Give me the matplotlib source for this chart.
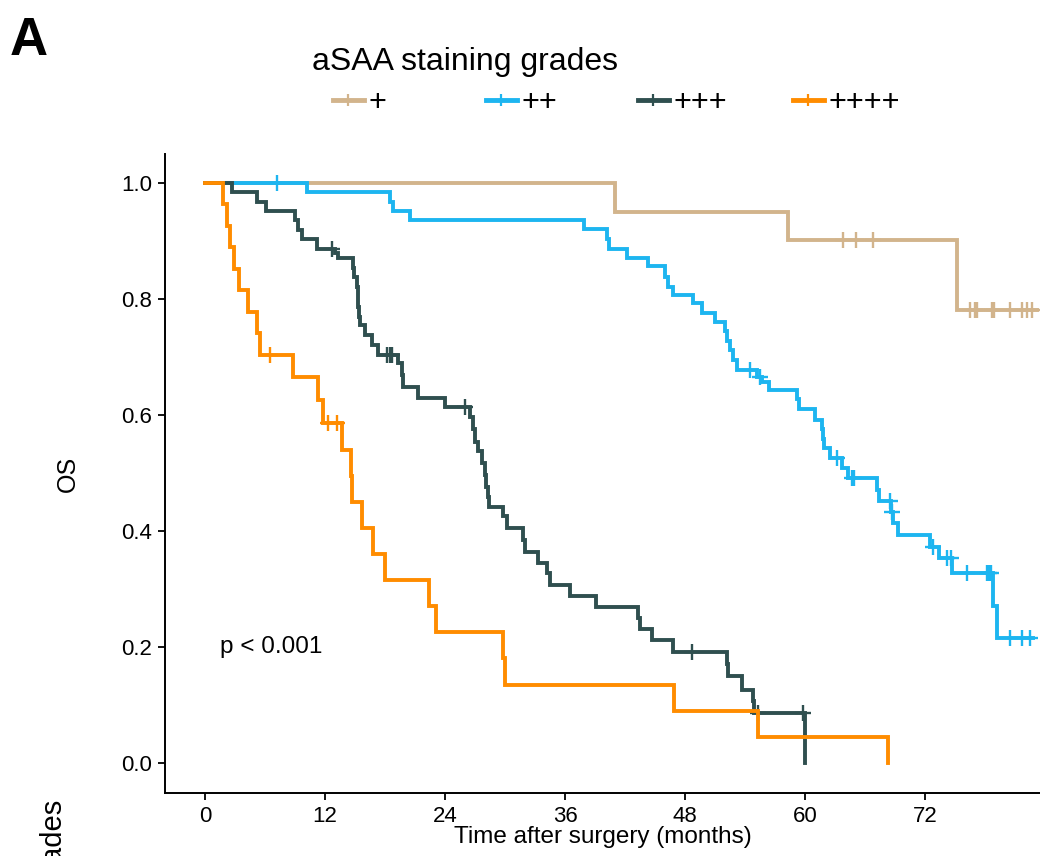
"""
Kaplan-Meier OS curves by aSAA staining grade (panel A).
"""
import numpy as np
import matplotlib
matplotlib.use("Agg")
import matplotlib.pyplot as plt
from matplotlib.lines import Line2D

plt.rcParams["font.family"] = ["Liberation Sans", "DejaVu Sans"]

# ---- data (months, survival after each drop) ----
grades = ["+", "++", "+++", "++++"]
colors = ["#D2B48C", "#1DB5F0", "#2F4F4F", "#FF8C00"]

tan_t = [0, 41.0, 58.3, 75.2]
tan_s = [1.0, 0.950, 0.902, 0.781]
tan_cens = [63.8, 65.1, 66.8, 76.5, 77.0, 77.2, 78.7, 78.9, 80.5, 81.7, 82.2, 82.7]
tan_end = 83.2

blue_t = [0, 10.2, 18.5, 18.8, 20.5, 37.9, 40.2, 40.4, 42.2, 44.3, 46.0, 46.3,
          46.8, 48.8, 49.7, 51.0, 52.0, 52.2, 52.5, 52.8, 53.2, 55.2, 55.7,
          56.4, 59.2, 59.4, 61.0, 61.7, 61.8, 61.9, 62.5, 63.7, 64.3, 67.2,
          67.4, 68.6, 68.8, 69.3, 72.5, 73.4, 74.7, 78.8, 79.2]
blue_s = [1.0, 0.985, 0.968, 0.952, 0.936, 0.921, 0.904, 0.887, 0.871, 0.856,
          0.838, 0.821, 0.807, 0.793, 0.775, 0.761, 0.744, 0.728, 0.712, 0.695,
          0.678, 0.666, 0.656, 0.643, 0.627, 0.611, 0.591, 0.575, 0.559, 0.543,
          0.526, 0.508, 0.491, 0.471, 0.451, 0.432, 0.413, 0.393, 0.373, 0.353,
          0.327, 0.270, 0.215]
blue_cens = [7.2, 54.5, 55.5, 63.2, 64.7, 64.9, 68.5, 68.7, 72.8, 74.2, 74.6,
             76.2, 78.2, 78.4, 78.6, 80.5, 81.7, 82.5]
blue_end = 82.8

green_t = [0, 2.67, 5.17, 6.1, 9.0, 9.3, 9.7, 11.17, 13.0, 13.3, 14.8, 14.9,
           15.2, 15.25, 15.3, 15.35, 15.5, 16.0, 16.7, 17.3, 19.3, 19.7, 19.8,
           21.3, 24.0, 26.5, 26.8, 27.0, 27.3, 27.7, 28.0, 28.05, 28.3, 28.35,
           29.8, 30.2, 31.8, 32.0, 33.3, 34.2, 34.5, 36.5, 39.1, 43.3, 43.5,
           44.7, 46.8, 52.2, 52.3, 53.7, 54.8, 54.9, 60.0]
green_s = [1.0, 0.985, 0.968, 0.952, 0.936, 0.919, 0.903, 0.887, 0.879, 0.870,
           0.854, 0.838, 0.821, 0.804, 0.787, 0.769, 0.755, 0.738, 0.721, 0.703,
           0.689, 0.669, 0.649, 0.630, 0.613, 0.597, 0.575, 0.554, 0.537, 0.517,
           0.497, 0.476, 0.459, 0.442, 0.425, 0.405, 0.385, 0.364, 0.344, 0.327,
           0.307, 0.287, 0.268, 0.249, 0.230, 0.211, 0.192, 0.170, 0.149, 0.126,
           0.106, 0.086, 0.0]
green_cens = [12.7, 18.2, 18.5, 18.7, 26.0, 48.7, 55.3, 59.8]
green_end = 60.0

orange_t = [0, 1.8, 2.2, 2.5, 2.9, 3.4, 4.3, 5.2, 5.5, 8.8, 11.3, 11.8, 13.7,
            14.6, 14.7, 15.7, 16.8, 18.0, 22.4, 23.1, 29.8, 30.0, 46.9, 55.3,
            68.3]
orange_s = [1.0, 0.963, 0.926, 0.889, 0.852, 0.815, 0.778, 0.741, 0.704, 0.666,
            0.626, 0.586, 0.540, 0.495, 0.450, 0.405, 0.360, 0.315, 0.270, 0.225,
            0.180, 0.135, 0.090, 0.045, 0.0]
orange_cens = [6.5, 12.3, 13.2]
orange_end = 68.3

curves = [
    (tan_t, tan_s, tan_cens, tan_end),
    (blue_t, blue_s, blue_cens, blue_end),
    (green_t, green_s, green_cens, green_end),
    (orange_t, orange_s, orange_cens, orange_end),
]

W, H = 1040, 856
fig = plt.figure(figsize=(W / 100, H / 100), dpi=100)
ax = fig.add_axes([165 / W, 1 - 793 / H, (W - 165) / W, (793 - 154) / H])

for i, ((t, s, cens, end), col) in enumerate(zip(curves, colors)):
    t = np.asarray(t, float)
    s = np.asarray(s, float)
    xs = np.append(t, end)
    ys = np.append(s, s[-1])
    ax.step(xs, ys, where="post", color=col, lw=2.8, zorder=2 + i,
            solid_joinstyle="miter")
    c = np.asarray(cens, float)
    idx = np.searchsorted(t, c, side="right") - 1
    ax.plot(c, s[idx], ls="none", marker="+", ms=11, mew=1.7, color=col,
            zorder=2 + i)

ax.text(1.5, 0.2, "p < 0.001", fontsize=17.5, ha="left", va="center")

ax.set_xlim(-4, 83.5)
ax.set_ylim(-0.052, 1.05)
ax.set_xticks(np.arange(0, 73, 12))
ax.set_yticks(np.arange(0, 1.01, 0.2))
ax.yaxis.set_major_formatter(matplotlib.ticker.FormatStrFormatter("%.1f"))
ax.tick_params(length=5, width=1.3, labelsize=16, pad=4, color="black",
               labelcolor="black")
for side in ["top", "right"]:
    ax.spines[side].set_visible(False)
for side in ["left", "bottom"]:
    ax.spines[side].set_linewidth(1.4)
ax.set_xlabel("Time after surgery (months)", fontsize=17.5, labelpad=0)
ax.set_ylabel("OS", fontsize=18, labelpad=30)

# legend: title plus four evenly spaced keys
fig.text(312 / W, 1 - 70 / H, "aSAA staining grades", fontsize=23,
         va="baseline", ha="left")
key_x = [333, 486, 638, 793]
for lab, col, kx in zip(grades, colors, key_x):
    h = Line2D([], [], color=col, lw=3.5, marker="+", ms=9, mew=1.6)
    fig.legend(handles=[h], labels=[lab], loc="center left",
               bbox_to_anchor=(kx / W, 1 - 103 / H), frameon=False,
               fontsize=22, handlelength=1.0, handletextpad=0.15,
               borderpad=0, borderaxespad=0)

fig.text(10 / W, 1 - 16 / H, "A", fontsize=38, fontweight="bold",
         ha="left", va="top")
fig.text(53 / W, 1 - 798 / H, "grades", fontsize=21, rotation=90,
         ha="center", va="top")

fig.savefig("out.png", dpi=100)
plt.close(fig)
